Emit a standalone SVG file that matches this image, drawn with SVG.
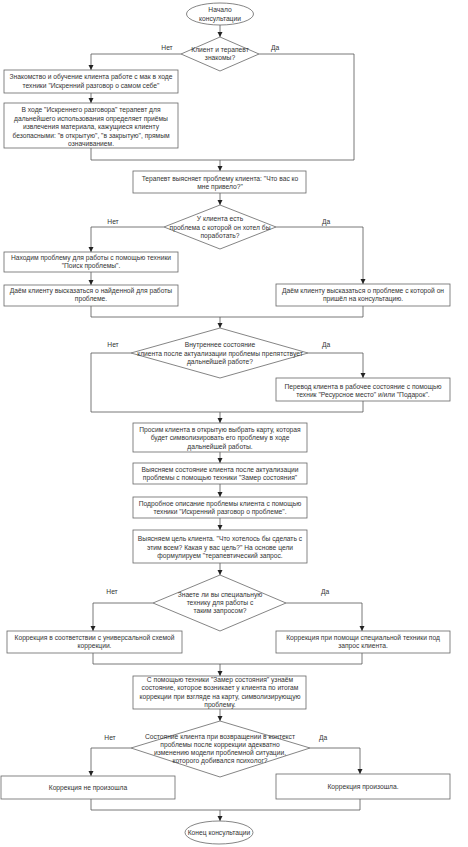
<svg xmlns="http://www.w3.org/2000/svg" width="468" height="847" viewBox="0 0 468 847">
<style>
.n{fill:#fff;stroke:#666;stroke-width:0.8}
.t{font-family:"Liberation Sans",Arial,sans-serif;font-size:6.7px;fill:#333;text-anchor:middle}
.l{font-family:"Liberation Sans",Arial,sans-serif;font-size:6.7px;fill:#333;text-anchor:middle}
.c{fill:none;stroke:#555;stroke-width:0.8}
</style>
<defs>
<marker id="a" markerWidth="6" markerHeight="6" refX="5" refY="3" orient="auto" markerUnits="userSpaceOnUse">
<path d="M0,0.5 L5,3 L0,5.5 Z" fill="#222"/>
</marker>
</defs>
<rect width="468" height="847" fill="#fff"/>
<g id="connectors">
<path class="c" d="M220,25 V37" marker-end="url(#a)"/>
<path class="c" d="M181,54 H91 V70" marker-end="url(#a)"/>
<path class="c" d="M91,93 V103" marker-end="url(#a)"/>
<path class="c" d="M259,54 H354 V160 M91,148 V160 H354"/>
<path class="c" d="M220,160 V171" marker-end="url(#a)"/>
<path class="c" d="M220,193 V205" marker-end="url(#a)"/>
<path class="c" d="M164,227 H91 V252" marker-end="url(#a)"/>
<path class="c" d="M276,227 H363 V284" marker-end="url(#a)"/>
<path class="c" d="M91,272 V285" marker-end="url(#a)"/>
<path class="c" d="M91,306 V317 H363 V306"/>
<path class="c" d="M220,317 V328" marker-end="url(#a)"/>
<path class="c" d="M131,353 H91 V412 H363 V401"/>
<path class="c" d="M308,353 H363 V378" marker-end="url(#a)"/>
<path class="c" d="M220,412 V423" marker-end="url(#a)"/>
<path class="c" d="M220,452 V463" marker-end="url(#a)"/>
<path class="c" d="M220,484 V497" marker-end="url(#a)"/>
<path class="c" d="M220,518 V530" marker-end="url(#a)"/>
<path class="c" d="M220,563 V575" marker-end="url(#a)"/>
<path class="c" d="M153,603 H93 V631" marker-end="url(#a)"/>
<path class="c" d="M286,603 H362 V631" marker-end="url(#a)"/>
<path class="c" d="M93,653 V664 H362 V653"/>
<path class="c" d="M220,664 V676" marker-end="url(#a)"/>
<path class="c" d="M220,709 V721" marker-end="url(#a)"/>
<path class="c" d="M131,748 H91 V776" marker-end="url(#a)"/>
<path class="c" d="M310,748 H360 V774" marker-end="url(#a)"/>
<path class="c" d="M91,799 V810 H360 V799"/>
<path class="c" d="M220,810 V821" marker-end="url(#a)"/>
<text class="l" x="167" y="50">Нет</text>
<text class="l" x="275" y="50">Да</text>
<text class="l" x="113" y="224">Нет</text>
<text class="l" x="326" y="224">Да</text>
<text class="l" x="113" y="347">Нет</text>
<text class="l" x="326" y="347">Да</text>
<text class="l" x="112" y="594">Нет</text>
<text class="l" x="325" y="594">Да</text>
<text class="l" x="110" y="740">Нет</text>
<text class="l" x="323" y="740">Да</text>
</g>
<g id="start">
<ellipse class="n" cx="220" cy="14" rx="33.5" ry="11"/>
<text class="t" x="220" y="12">Начало</text>
<text class="t" x="220" y="20.5">консультации</text>
</g>
<g id="d1">
<polygon class="n" points="220,37 259,54 220,71 181,54"/>
<text class="t" x="220" y="51.5">Клиент и терапевт</text>
<text class="t" x="220" y="60">знакомы?</text>
</g>
<g id="b1">
<rect class="n" x="4" y="70" width="174" height="23"/>
<text class="t" x="91" y="79">Знакомство и обучение клиента работе с мак в ходе</text>
<text class="t" x="91" y="87.5">техники "Искренний разговор о самом себе"</text>
</g>
<g id="b2">
<rect class="n" x="4" y="103" width="174" height="45"/>
<text class="t" x="91" y="112">В ходе "Искреннего разговора" терапевт для</text>
<text class="t" x="91" y="120.5">дальнейшего использования определяет приёмы</text>
<text class="t" x="91" y="129">извлечения материала, кажущиеся клиенту</text>
<text class="t" x="91" y="137.5">безопасными: "в открытую", "в закрытую", прямым</text>
<text class="t" x="91" y="146">означиванием.</text>
</g>
<g id="b3">
<rect class="n" x="133" y="171" width="173" height="22"/>
<text class="t" x="220" y="181">Терапевт выясняет проблему клиента: "Что вас ко</text>
<text class="t" x="220" y="189">мне привело?"</text>
</g>
<g id="d2">
<polygon class="n" points="220,205 276,227 220,249 164,227"/>
<text class="t" x="220" y="221">У клиента есть</text>
<text class="t" x="220" y="229.5">проблема с которой он хотел бы</text>
<text class="t" x="220" y="237.5">поработать?</text>
</g>
<g id="b4">
<rect class="n" x="4" y="252" width="174" height="20"/>
<text class="t" x="91" y="259.5">Находим проблему для работы с помощью техники</text>
<text class="t" x="91" y="267.5">"Поиск проблемы".</text>
</g>
<g id="b5">
<rect class="n" x="4" y="285" width="174" height="21"/>
<text class="t" x="91" y="292.5">Даём клиенту высказаться о найденной для работы</text>
<text class="t" x="91" y="300.5">проблеме.</text>
</g>
<g id="b6">
<rect class="n" x="276" y="284" width="174" height="22"/>
<text class="t" x="363" y="292.5">Даём клиенту высказаться о проблеме с которой он</text>
<text class="t" x="363" y="300.5">пришёл на консультацию.</text>
</g>
<g id="d3">
<polygon class="n" points="220,328 308,353 220,378 131,353"/>
<text class="t" x="220" y="347">Внутреннее состояние</text>
<text class="t" x="220" y="355.5">клиента после актуализации проблемы препятствует</text>
<text class="t" x="220" y="363.5">дальнейшей работе?</text>
</g>
<g id="b7">
<rect class="n" x="276" y="378" width="174" height="23"/>
<text class="t" x="363" y="389">Перевод клиента в рабочее состояние с помощью</text>
<text class="t" x="363" y="397">техник "Ресурсное место" и/или "Подарок".</text>
</g>
<g id="b8">
<rect class="n" x="133" y="423" width="174" height="29"/>
<text class="t" x="220" y="431.5">Просим клиента в открытую выбрать карту, которая</text>
<text class="t" x="220" y="440">будет символизировать его проблему в ходе</text>
<text class="t" x="220" y="448.5">дальнейшей работы.</text>
</g>
<g id="b9">
<rect class="n" x="133" y="463" width="174" height="21"/>
<text class="t" x="220" y="471.5">Выясняем состояние клиента после актуализации</text>
<text class="t" x="220" y="480">проблемы с помощью техники "Замер состояния"</text>
</g>
<g id="b10">
<rect class="n" x="133" y="497" width="174" height="21"/>
<text class="t" x="220" y="505.5">Подробное описание проблемы клиента с помощью</text>
<text class="t" x="220" y="513.5">техники "Искренний разговор о проблеме".</text>
</g>
<g id="b11">
<rect class="n" x="133" y="530" width="174" height="33"/>
<text class="t" x="220" y="541">Выясняем цель клиента. "Что хотелось бы сделать с</text>
<text class="t" x="220" y="549.5">этим всем? Какая у вас цель?" На основе цели</text>
<text class="t" x="220" y="557.5">формулируем "терапевтический запрос.</text>
</g>
<g id="d4">
<polygon class="n" points="220,575 286,603 220,631 153,603"/>
<text class="t" x="220" y="597">Знаете ли вы специальную</text>
<text class="t" x="220" y="605">технику для работы с</text>
<text class="t" x="220" y="612.5">таким запросом?</text>
</g>
<g id="b12">
<rect class="n" x="7" y="631" width="175" height="22"/>
<text class="t" x="94.5" y="640">Коррекция в соответствии с универсальной схемой</text>
<text class="t" x="94.5" y="648">коррекции.</text>
</g>
<g id="b13">
<rect class="n" x="276" y="631" width="174" height="22"/>
<text class="t" x="363" y="640">Коррекция при помощи специальной техники под</text>
<text class="t" x="363" y="648">запрос клиента.</text>
</g>
<g id="b14">
<rect class="n" x="133" y="676" width="173" height="33"/>
<text class="t" x="220" y="681.5">С помощью техники "Замер состояния" узнаём</text>
<text class="t" x="220" y="690">состояние, которое возникает у клиента по итогам</text>
<text class="t" x="220" y="698.5">коррекции при взгляде на карту, символизирующую</text>
<text class="t" x="220" y="706.5">проблему.</text>
</g>
<g id="d5">
<polygon class="n" points="220,721 310,748 220,777 131,748"/>
<text class="t" x="220" y="739">Состояние клиента при возвращении в контекст</text>
<text class="t" x="220" y="746.5">проблемы после коррекции адекватно</text>
<text class="t" x="220" y="755">изменению модели проблемной ситуации,</text>
<text class="t" x="220" y="762.5">которого добивался психолог?</text>
</g>
<g id="b15">
<rect class="n" x="1" y="776" width="174" height="23"/>
<text class="t" x="88" y="790">Коррекция не произошла</text>
</g>
<g id="b16">
<rect class="n" x="276" y="774" width="174" height="25"/>
<text class="t" x="363" y="788.5">Коррекция произошла.</text>
</g>
<g id="end">
<ellipse class="n" cx="219" cy="832.5" rx="34" ry="11.5"/>
<text class="t" x="219" y="835">Конец консультации</text>
</g>
</svg>
